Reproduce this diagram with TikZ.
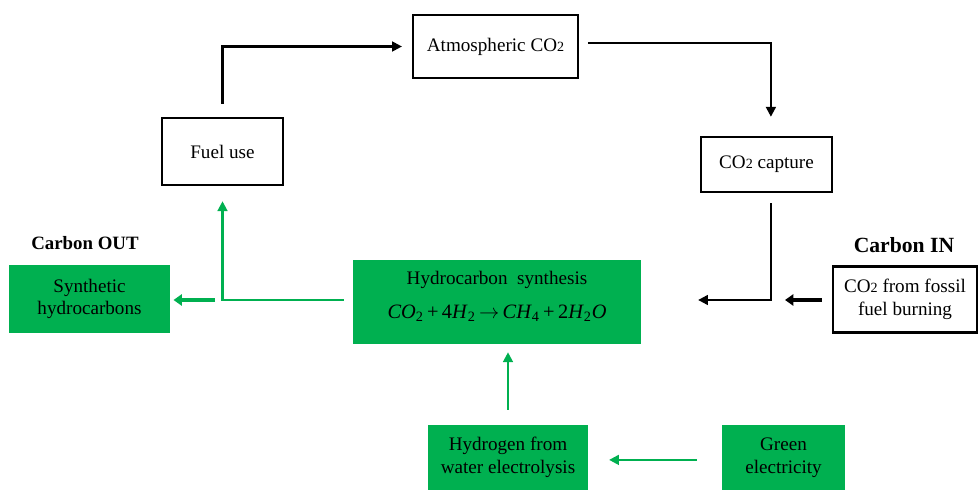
\documentclass[tikz,border=0pt]{standalone}
\usepackage{fontspec}
\setmainfont{Liberation Serif}
\usepackage{tikz}
\usetikzlibrary{arrows.meta,positioning,calc}

\definecolor{leafgreen}{HTML}{00B050}
\newcommand{\COtwo}{CO{\fontsize{10}{10}\selectfont 2}}

\begin{document}
\begin{tikzpicture}[x=0.025cm,y=-0.025cm,
  font=\fontsize{13.6}{16}\selectfont,
  whitebox/.style={draw=black,line width=1.5pt,fill=white,align=center,inner sep=2pt},
  greenbox/.style={fill=leafgreen,align=center,inner sep=2pt},
  blkarrow/.style={line width=1.5pt,-{Triangle[length=7pt,width=7pt]}},
  fatarrow/.style={line width=2.8pt,-{Triangle[length=6pt,width=8pt]}},
  grnarrow/.style={leafgreen,line width=1.5pt,-{Triangle[length=7pt,width=7pt]}},
  grnfat/.style={leafgreen,line width=2.8pt,-{Triangle[length=6pt,width=8pt]}}]
\useasboundingbox (0,0) rectangle (979,490);
%% cycle boxes
\node[whitebox,minimum width=4.125cm,minimum height=1.575cm] (atm) at (495.5,46.5) {Atmospheric \COtwo};
\node[whitebox,minimum width=3.025cm,minimum height=1.675cm] (fuel) at (222.5,151.5) {Fuel use};
\node[whitebox,minimum width=3.275cm,minimum height=1.375cm] (capture) at (766.5,164.5) {\COtwo{} capture};
\node[whitebox,minimum width=3.6cm,minimum height=1.65cm] (fossil) at (905,299.5) {\COtwo{} from fossil\\fuel burning};
%% green boxes
\node[greenbox,minimum width=7.2cm,minimum height=2.1cm] (synth) at (497,302)
  {Hydrocarbon~ synthesis\\[8pt]
   {\fontsize{14.5}{16}\selectfont\textit{CO}\textsubscript{2}\,+\,4\textit{H}\textsubscript{2}\,$\rightarrow$\,\textit{CH}\textsubscript{4}\,+\,2\textit{H}\textsubscript{2}\textit{O}}\rule[-10pt]{0pt}{1pt}};
\node[greenbox,minimum width=4.025cm,minimum height=1.7cm] (synhc) at (89.5,299) {Synthetic\\hydrocarbons};
\node[greenbox,minimum width=4.0cm,minimum height=1.625cm] (hydrogen) at (508,457.5) {Hydrogen from\\water electrolysis};
\node[greenbox,minimum width=3.075cm,minimum height=1.625cm] (elec) at (783.5,457.5) {Green\\electricity};
%% headings
\node[font=\fontsize{13.4}{15}\selectfont\bfseries] (cout) at (85,243) {Carbon OUT};
\node[font=\fontsize{15.4}{17}\selectfont\bfseries] (cin) at (904,245) {Carbon IN};
%% helper points
\coordinate (inR) at (785,300);
\coordinate (outL) at (215,300);
%% black cycle
\draw[blkarrow,shorten <=0.33cm,shorten >=0.25cm] (fuel.north) |- (atm.west);
\draw[blkarrow,shorten <=0.22cm,shorten >=0.48cm] ([yshift=0.09cm]atm.east) -| ([xshift=0.11cm]capture.north);
\draw[blkarrow,shorten <=0.25cm,shorten >=1.42cm] ([xshift=0.11cm]capture.south) |- (inR -| synth.east);
\draw[fatarrow,shorten <=0.25cm] (fossil.west |- inR) -- (inR);
%% green flows
\draw[grnarrow,shorten <=0.22cm,shorten >=0.38cm] (outL -| synth.west) -| (fuel.south);
\draw[grnfat,shorten >=0.08cm] (outL) -- (outL -| synhc.east);
\draw[grnarrow,shorten <=0.38cm,shorten >=0.2cm] (hydrogen.north) -- (hydrogen.north |- synth.south);
\draw[grnarrow,shorten <=0.63cm,shorten >=0.52cm] ([yshift=-0.06cm]elec.west) -- ([yshift=-0.06cm]hydrogen.east);
\end{tikzpicture}
\end{document}
